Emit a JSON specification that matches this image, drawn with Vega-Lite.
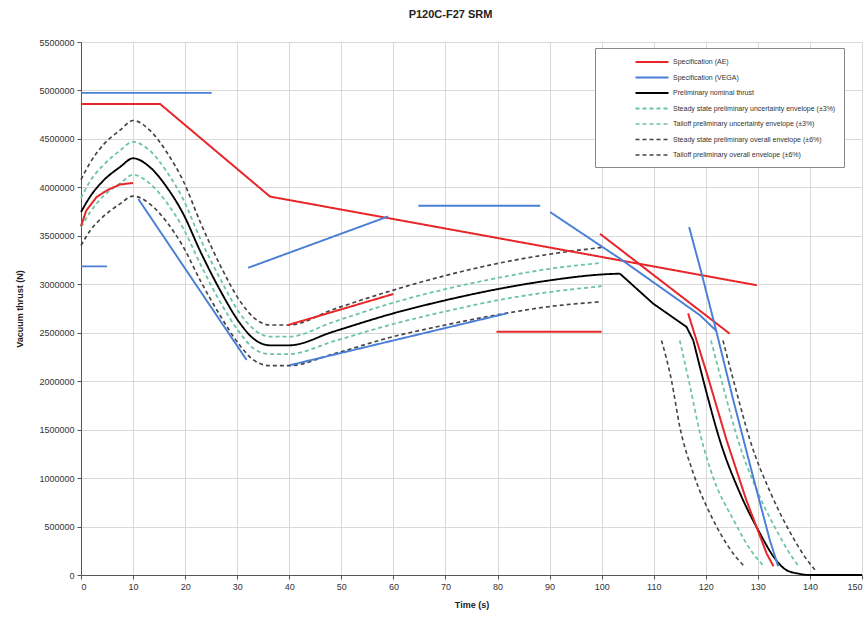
{
  "$schema": "https://vega.github.io/schema/vega-lite/v6.json",
  "autosize": {"type": "none"},
  "padding": {"left": 81, "top": 42, "right": 5, "bottom": 50},
  "width": 781,
  "height": 533,
  "background": "white",
  "title": {"text": "P120C-F27 SRM", "fontSize": 11, "fontWeight": "bold", "font": "Liberation Sans", "color": "#222", "anchor": "middle", "dx": -21, "offset": 18},
  "config": {
    "view": {"stroke": null},
    "axis": {"labelFont": "Liberation Sans Narrow, Liberation Sans", "labelFontSize": 9, "labelColor": "#333", "titleFont": "Liberation Sans", "titleFontSize": 9, "titleFontWeight": "bold", "titleColor": "#222", "gridColor": "#d9d9d9", "domainColor": "#555", "tickColor": "#555", "tickSize": 4}
  },
  "datasets": {
    "spec": [
      {"s": "A", "g": "A1", "t": 0, "v": 4860000}, {"s": "A", "g": "A1", "t": 15.2, "v": 4860000}, {"s": "A", "g": "A1", "t": 36.3, "v": 3905000}, {"s": "A", "g": "A1", "t": 129.8, "v": 2990000},
      {"s": "A", "g": "A2", "t": 0, "v": 3600000}, {"s": "A", "g": "A2", "t": 1, "v": 3760000}, {"s": "A", "g": "A2", "t": 3, "v": 3900000}, {"s": "A", "g": "A2", "t": 5, "v": 3970000}, {"s": "A", "g": "A2", "t": 7.5, "v": 4030000}, {"s": "A", "g": "A2", "t": 10, "v": 4045000},
      {"s": "A", "g": "A3", "t": 39.8, "v": 2580000}, {"s": "A", "g": "A3", "t": 60, "v": 2900000},
      {"s": "A", "g": "A4", "t": 79.8, "v": 2510000}, {"s": "A", "g": "A4", "t": 100, "v": 2510000},
      {"s": "A", "g": "A5", "t": 99.7, "v": 3520000}, {"s": "A", "g": "A5", "t": 124.6, "v": 2490000},
      {"s": "A", "g": "A6", "t": 116.6, "v": 2700000}, {"s": "A", "g": "A6", "t": 120.2, "v": 2080000}, {"s": "A", "g": "A6", "t": 124, "v": 1390000}, {"s": "A", "g": "A6", "t": 127.8, "v": 770000}, {"s": "A", "g": "A6", "t": 131.7, "v": 220000}, {"s": "A", "g": "A6", "t": 133, "v": 90000},
      {"s": "B", "g": "B1", "t": 0, "v": 4975000}, {"s": "B", "g": "B1", "t": 25.1, "v": 4975000},
      {"s": "B", "g": "B2", "t": 0, "v": 3185000}, {"s": "B", "g": "B2", "t": 5, "v": 3185000},
      {"s": "B", "g": "B3", "t": 11, "v": 3880000}, {"s": "B", "g": "B3", "t": 31.8, "v": 2220000},
      {"s": "B", "g": "B4", "t": 32.1, "v": 3170000}, {"s": "B", "g": "B4", "t": 59, "v": 3700000},
      {"s": "B", "g": "B5", "t": 64.8, "v": 3810000}, {"s": "B", "g": "B5", "t": 88.2, "v": 3810000},
      {"s": "B", "g": "B6", "t": 40.1, "v": 2165000}, {"s": "B", "g": "B6", "t": 81.8, "v": 2700000},
      {"s": "B", "g": "B7", "t": 90.1, "v": 3745000}, {"s": "B", "g": "B7", "t": 103.5, "v": 3265000}, {"s": "B", "g": "B7", "t": 118.9, "v": 2680000}, {"s": "B", "g": "B7", "t": 122, "v": 2520000},
      {"s": "B", "g": "B8", "t": 116.8, "v": 3590000}, {"s": "B", "g": "B8", "t": 119.2, "v": 3110000}, {"s": "B", "g": "B8", "t": 122, "v": 2520000}, {"s": "B", "g": "B8", "t": 125.3, "v": 1800000}, {"s": "B", "g": "B8", "t": 129.1, "v": 1010000}, {"s": "B", "g": "B8", "t": 132.3, "v": 360000}, {"s": "B", "g": "B8", "t": 133.9, "v": 90000},
      {"s": "C", "g": "C2", "t": 103.5, "v": 3110000}, {"s": "C", "g": "C2", "t": 109.9, "v": 2800000}, {"s": "C", "g": "C2", "t": 116.3, "v": 2560000}, {"s": "C", "g": "C2", "t": 117.6, "v": 2420000}
    ],
    "curves": [
      {"s": "C", "g": "C1", "t": 0, "v": 3745000}, {"s": "C", "g": "C1", "t": 1.7, "v": 3900000}, {"s": "C", "g": "C1", "t": 4.3, "v": 4070000}, {"s": "C", "g": "C1", "t": 7.5, "v": 4210000}, {"s": "C", "g": "C1", "t": 10, "v": 4300000}, {"s": "C", "g": "C1", "t": 13.2, "v": 4210000}, {"s": "C", "g": "C1", "t": 16.5, "v": 4000000}, {"s": "C", "g": "C1", "t": 19.6, "v": 3730000}, {"s": "C", "g": "C1", "t": 23, "v": 3330000}, {"s": "C", "g": "C1", "t": 26.7, "v": 2940000}, {"s": "C", "g": "C1", "t": 30.5, "v": 2600000}, {"s": "C", "g": "C1", "t": 33.1, "v": 2440000}, {"s": "C", "g": "C1", "t": 36.3, "v": 2370000}, {"s": "C", "g": "C1", "t": 40, "v": 2370000}, {"s": "C", "g": "C1", "t": 48.4, "v": 2510000}, {"s": "C", "g": "C1", "t": 60, "v": 2700000}, {"s": "C", "g": "C1", "t": 70, "v": 2835000}, {"s": "C", "g": "C1", "t": 80.5, "v": 2955000}, {"s": "C", "g": "C1", "t": 90, "v": 3040000}, {"s": "C", "g": "C1", "t": 99.7, "v": 3100000}, {"s": "C", "g": "C1", "t": 103.5, "v": 3110000},
      {"s": "C", "g": "C3", "t": 117.6, "v": 2420000}, {"s": "C", "g": "C3", "t": 120.2, "v": 1870000}, {"s": "C", "g": "C3", "t": 122.7, "v": 1390000}, {"s": "C", "g": "C3", "t": 126.6, "v": 840000}, {"s": "C", "g": "C3", "t": 130.4, "v": 430000}, {"s": "C", "g": "C3", "t": 133, "v": 190000}, {"s": "C", "g": "C3", "t": 135.5, "v": 50000}, {"s": "C", "g": "C3", "t": 138, "v": 12000}, {"s": "C", "g": "C3", "t": 140, "v": 0}, {"s": "C", "g": "C3", "t": 150, "v": 0},
      {"s": "D", "g": "D1", "t": 0, "v": 3890000}, {"s": "D", "g": "D1", "t": 1.7, "v": 4060000}, {"s": "D", "g": "D1", "t": 4.3, "v": 4230000}, {"s": "D", "g": "D1", "t": 7.5, "v": 4380000}, {"s": "D", "g": "D1", "t": 10, "v": 4470000}, {"s": "D", "g": "D1", "t": 13.2, "v": 4380000}, {"s": "D", "g": "D1", "t": 16.5, "v": 4160000}, {"s": "D", "g": "D1", "t": 19.6, "v": 3880000}, {"s": "D", "g": "D1", "t": 23, "v": 3460000}, {"s": "D", "g": "D1", "t": 26.7, "v": 3060000}, {"s": "D", "g": "D1", "t": 30.5, "v": 2700000}, {"s": "D", "g": "D1", "t": 33.1, "v": 2540000}, {"s": "D", "g": "D1", "t": 36.3, "v": 2460000}, {"s": "D", "g": "D1", "t": 40, "v": 2460000}, {"s": "D", "g": "D1", "t": 48.4, "v": 2610000}, {"s": "D", "g": "D1", "t": 60, "v": 2810000}, {"s": "D", "g": "D1", "t": 70, "v": 2950000}, {"s": "D", "g": "D1", "t": 80.5, "v": 3070000}, {"s": "D", "g": "D1", "t": 90, "v": 3160000}, {"s": "D", "g": "D1", "t": 100, "v": 3220000},
      {"s": "D", "g": "D2", "t": 0, "v": 3590000}, {"s": "D", "g": "D2", "t": 1.7, "v": 3740000}, {"s": "D", "g": "D2", "t": 4.3, "v": 3910000}, {"s": "D", "g": "D2", "t": 7.5, "v": 4040000}, {"s": "D", "g": "D2", "t": 10, "v": 4130000}, {"s": "D", "g": "D2", "t": 13.2, "v": 4040000}, {"s": "D", "g": "D2", "t": 16.5, "v": 3840000}, {"s": "D", "g": "D2", "t": 19.6, "v": 3580000}, {"s": "D", "g": "D2", "t": 23, "v": 3200000}, {"s": "D", "g": "D2", "t": 26.7, "v": 2820000}, {"s": "D", "g": "D2", "t": 30.5, "v": 2500000}, {"s": "D", "g": "D2", "t": 33.1, "v": 2340000}, {"s": "D", "g": "D2", "t": 36.3, "v": 2280000}, {"s": "D", "g": "D2", "t": 40, "v": 2280000}, {"s": "D", "g": "D2", "t": 48.4, "v": 2410000}, {"s": "D", "g": "D2", "t": 60, "v": 2590000}, {"s": "D", "g": "D2", "t": 70, "v": 2720000}, {"s": "D", "g": "D2", "t": 80.5, "v": 2840000}, {"s": "D", "g": "D2", "t": 90, "v": 2920000}, {"s": "D", "g": "D2", "t": 100, "v": 2980000},
      {"s": "E", "g": "E1", "t": 115, "v": 2420000}, {"s": "E", "g": "E1", "t": 117, "v": 1940000}, {"s": "E", "g": "E1", "t": 118.9, "v": 1460000}, {"s": "E", "g": "E1", "t": 121.4, "v": 1010000}, {"s": "E", "g": "E1", "t": 125.3, "v": 570000}, {"s": "E", "g": "E1", "t": 129.1, "v": 220000}, {"s": "E", "g": "E1", "t": 131, "v": 100000},
      {"s": "E", "g": "E2", "t": 121, "v": 2420000}, {"s": "E", "g": "E2", "t": 123.7, "v": 1870000}, {"s": "E", "g": "E2", "t": 126.2, "v": 1390000}, {"s": "E", "g": "E2", "t": 130.1, "v": 840000}, {"s": "E", "g": "E2", "t": 133.9, "v": 430000}, {"s": "E", "g": "E2", "t": 136.5, "v": 190000}, {"s": "E", "g": "E2", "t": 138, "v": 80000},
      {"s": "F", "g": "F1", "t": 0, "v": 4080000}, {"s": "F", "g": "F1", "t": 1.7, "v": 4250000}, {"s": "F", "g": "F1", "t": 4.3, "v": 4440000}, {"s": "F", "g": "F1", "t": 7.5, "v": 4590000}, {"s": "F", "g": "F1", "t": 10, "v": 4690000}, {"s": "F", "g": "F1", "t": 13.2, "v": 4590000}, {"s": "F", "g": "F1", "t": 16.5, "v": 4360000}, {"s": "F", "g": "F1", "t": 19.6, "v": 4070000}, {"s": "F", "g": "F1", "t": 23, "v": 3630000}, {"s": "F", "g": "F1", "t": 26.7, "v": 3200000}, {"s": "F", "g": "F1", "t": 30.5, "v": 2830000}, {"s": "F", "g": "F1", "t": 33.1, "v": 2660000}, {"s": "F", "g": "F1", "t": 36.3, "v": 2580000}, {"s": "F", "g": "F1", "t": 40, "v": 2580000}, {"s": "F", "g": "F1", "t": 48.4, "v": 2740000}, {"s": "F", "g": "F1", "t": 60, "v": 2940000}, {"s": "F", "g": "F1", "t": 70, "v": 3090000}, {"s": "F", "g": "F1", "t": 80.5, "v": 3220000}, {"s": "F", "g": "F1", "t": 90, "v": 3310000}, {"s": "F", "g": "F1", "t": 100, "v": 3380000},
      {"s": "F", "g": "F2", "t": 0, "v": 3400000}, {"s": "F", "g": "F2", "t": 1.7, "v": 3550000}, {"s": "F", "g": "F2", "t": 4.3, "v": 3700000}, {"s": "F", "g": "F2", "t": 7.5, "v": 3830000}, {"s": "F", "g": "F2", "t": 10, "v": 3910000}, {"s": "F", "g": "F2", "t": 13.2, "v": 3830000}, {"s": "F", "g": "F2", "t": 16.5, "v": 3640000}, {"s": "F", "g": "F2", "t": 19.6, "v": 3390000}, {"s": "F", "g": "F2", "t": 23, "v": 3030000}, {"s": "F", "g": "F2", "t": 26.7, "v": 2680000}, {"s": "F", "g": "F2", "t": 30.5, "v": 2370000}, {"s": "F", "g": "F2", "t": 33.1, "v": 2220000}, {"s": "F", "g": "F2", "t": 36.3, "v": 2160000}, {"s": "F", "g": "F2", "t": 40, "v": 2160000}, {"s": "F", "g": "F2", "t": 48.4, "v": 2280000}, {"s": "F", "g": "F2", "t": 60, "v": 2460000}, {"s": "F", "g": "F2", "t": 70, "v": 2580000}, {"s": "F", "g": "F2", "t": 80.5, "v": 2690000}, {"s": "F", "g": "F2", "t": 90, "v": 2770000}, {"s": "F", "g": "F2", "t": 100, "v": 2820000},
      {"s": "G", "g": "G1", "t": 111.5, "v": 2420000}, {"s": "G", "g": "G1", "t": 113.4, "v": 2010000}, {"s": "G", "g": "G1", "t": 115, "v": 1530000}, {"s": "G", "g": "G1", "t": 117.6, "v": 1050000}, {"s": "G", "g": "G1", "t": 121.4, "v": 570000}, {"s": "G", "g": "G1", "t": 125.3, "v": 220000}, {"s": "G", "g": "G1", "t": 127.2, "v": 100000},
      {"s": "G", "g": "G2", "t": 123.3, "v": 2420000}, {"s": "G", "g": "G2", "t": 126, "v": 1870000}, {"s": "G", "g": "G2", "t": 128.5, "v": 1390000}, {"s": "G", "g": "G2", "t": 132.5, "v": 840000}, {"s": "G", "g": "G2", "t": 136.3, "v": 430000}, {"s": "G", "g": "G2", "t": 139, "v": 190000}, {"s": "G", "g": "G2", "t": 141, "v": 50000}
    ]
  },
  "encoding": {
    "x": {"field": "t", "type": "quantitative", "scale": {"domain": [0, 150], "nice": false}, "axis": {"title": "Time (s)", "values": [0,10,20,30,40,50,60,70,80,90,100,110,120,130,140,150], "titlePadding": 9, "labelPadding": 3}},
    "y": {"field": "v", "type": "quantitative", "scale": {"domain": [0, 5500000], "nice": false}, "axis": {"title": "Vacuum thrust (N)", "format": "d", "values": [0,500000,1000000,1500000,2000000,2500000,3000000,3500000,4000000,4500000,5000000,5500000], "titlePadding": 14, "labelPadding": 3}},
    "color": {"field": "s", "type": "nominal", "title": null,
      "scale": {"domain": ["A","B","C","D","E","F","G"], "range": ["#e8262a","#4a7fd6","#000000","#6cc3a5","#6cc3a5","#444444","#444444"]},
      "legend": {"orient": "none", "legendX": 514, "legendY": 6, "symbolType": "M-3.3,0H3.3", "symbolSize": 100, "symbolOffset": 43, "labelOffset": 15, "symbolFillColor": "transparent", "labelFontSize": 7, "labelFont": "Liberation Sans", "labelColor": "#333", "rowPadding": 5.5, "padding": 8, "strokeColor": "#888", "fillColor": "white", "labelLimit": 300,
        "labelExpr": "{'A':'Specification (AE)','B':'Specification (VEGA)','C':'Preliminary nominal thrust','D':'Steady state preliminary uncertainty envelope (±3%)','E':'Tailoff preliminary uncertainty envelope (±3%)','F':'Steady state preliminary overall envelope (±6%)','G':'Tailoff preliminary overall envelope (±6%)'}[datum.label]"}},
    "strokeDash": {"field": "s", "type": "nominal", "title": null, "scale": {"domain": ["A","B","C","D","E","F","G"], "range": [[1,0],[1,0],[1,0],[4,3],[4,3],[4,3],[4,3]]}},
    "strokeWidth": {"field": "s", "type": "nominal", "title": null, "scale": {"domain": ["A","B","C","D","E","F","G"], "range": [2,1.6,2,1.1,1.1,1.1,1.1]}},
    "detail": {"field": "g", "type": "nominal"},
    "order": {"field": "t", "type": "quantitative"}
  },
  "layer": [
    {"data": {"name": "curves"}, "mark": {"type": "line", "interpolate": "monotone"}},
    {"data": {"name": "spec"}, "mark": {"type": "line"}}
  ]
}
